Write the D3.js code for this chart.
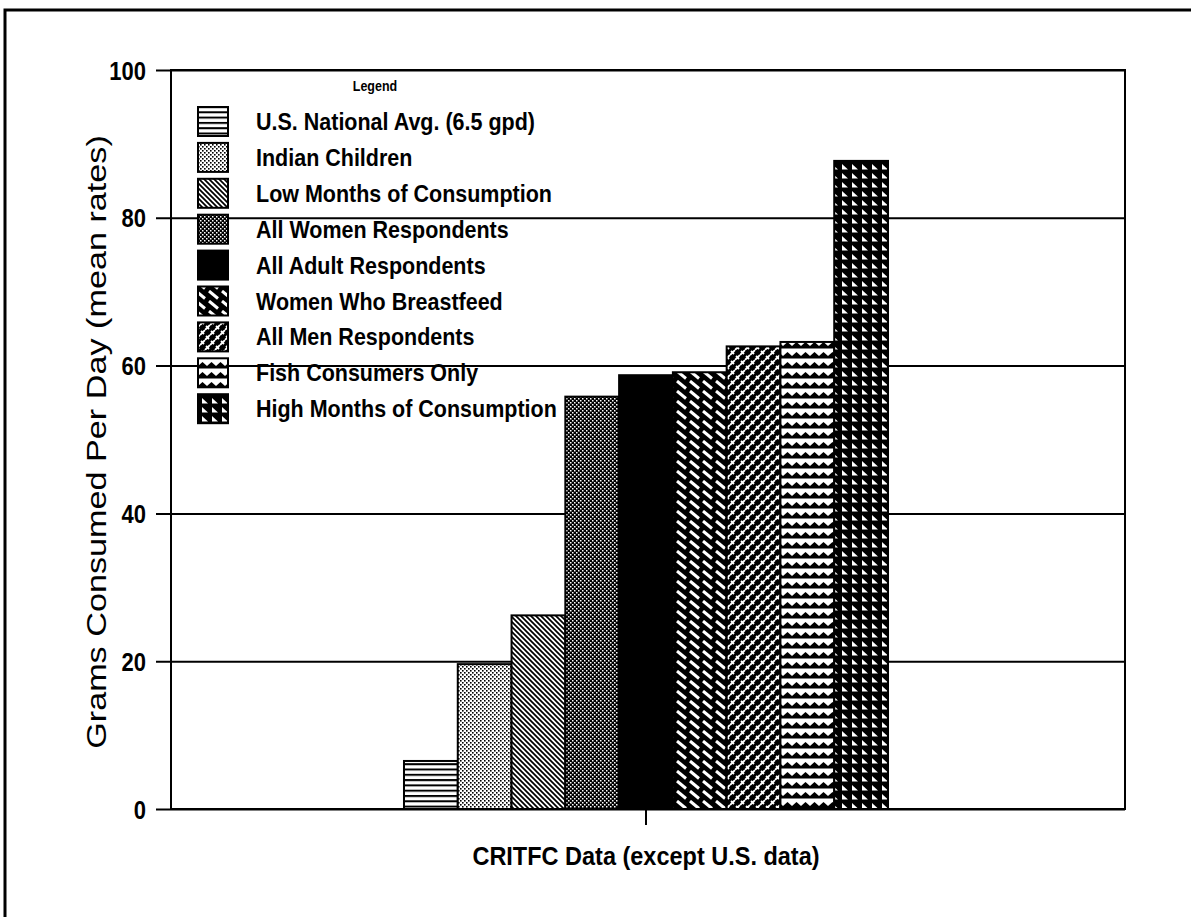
<!DOCTYPE html>
<html><head><meta charset="utf-8">
<script src="https://cdn.jsdelivr.net/npm/d3@7"></script>
<style>body{margin:0;background:#fff} svg{display:block} text{font-family:"Liberation Sans",Arial,sans-serif;font-weight:bold;fill:#000}</style>
</head><body><svg id="c" width="1191" height="917"></svg>
<script>
const categories = ["CRITFC Data (except U.S. data)"];
const seriesNames = [
  "U.S. National Avg. (6.5 gpd)",
  "Indian Children",
  "Low Months of Consumption",
  "All Women Respondents",
  "All Adult Respondents",
  "Women Who Breastfeed",
  "All Men Respondents",
  "Fish Consumers Only",
  "High Months of Consumption"
];
const seriesValues = [6.5, 19.6, 26.2, 55.8, 58.7, 59.1, 62.6, 63.2, 87.7];
const yTickValues = [0, 20, 40, 60, 80, 100];
const yTitle = "Grams Consumed Per Day (mean rates)";
const legendTitle = "Legend";

const SY = 1.12; // vertical stretch of the scanned lettering
const svg = d3.select("#c");
svg.append("rect").attr("width",1191).attr("height",917).attr("fill","#fff");
const defs = svg.append("defs");
function pat(id, w, h, bg, draw) {
  const p = defs.append("pattern").attr("id", id).attr("patternUnits", "userSpaceOnUse")
    .attr("width", w).attr("height", h);
  p.append("rect").attr("width", w).attr("height", h).attr("fill", bg);
  draw(p);
}
pat("p0", 8, 5.3, "#fff", p => p.append("rect").attr("y", 0).attr("width", 8).attr("height", 2).attr("fill", "#000"));
pat("p1", 4, 4, "#fff", p => { p.append("rect").attr("width",1.6).attr("height",1.6).attr("fill","#000"); p.append("rect").attr("x",2).attr("y",2).attr("width",1.6).attr("height",1.6).attr("fill","#000"); });
pat("p2", 5, 5, "#fff", p => p.append("path").attr("d","M-1,-1L6,6M-1,4L1,6M4,-1L6,1").attr("stroke","#000").attr("stroke-width",1.7));
pat("p3", 4, 4, "#000", p => { p.append("rect").attr("width",1.5).attr("height",1.5).attr("fill","#fff"); p.append("rect").attr("x",2).attr("y",2).attr("width",1.5).attr("height",1.5).attr("fill","#fff"); });
pat("p4", 4, 4, "#000", p => {});
pat("p5", 13, 10, "#000", p => p.append("path").attr("d","M1,1L10,8.5").attr("stroke","#fff").attr("stroke-width",3));
pat("p6", 10, 10, "#000", p => p.append("path").attr("d","M0,5L5,0M5,10L10,5M1,1L4,4M6,6L9,9").attr("stroke","#fff").attr("stroke-width",1.8));
pat("p7", 9, 10, "#fff", p => p.append("path").attr("d","M0,6L4.5,2L9,6L9,8.5L0,8.5Z").attr("fill","#000"));
pat("p8", 10, 9, "#000", p => p.append("path").attr("d","M2,2L8,7.5L2,7.5Z").attr("fill","#fff"));
const patternIds = ["p0","p1","p2","p3","p4","p5","p6","p7","p8"];

const plot = {left: 171, right: 1125, top: 70, bottom: 809};
const y = d3.scaleLinear().domain([0, 100]).range([plot.bottom, plot.top]);
const x0 = d3.scaleBand().domain(categories).range([plot.left - 2, plot.right - 2]).paddingInner(0).paddingOuter(0.4855);
const x1 = d3.scaleBand().domain(seriesNames).range([0, x0.bandwidth()]).padding(0);

// outer page frame
svg.append("path").attr("d","M5,917V10H1191").attr("fill","none").attr("stroke","#000").attr("stroke-width",3);

// gridlines + y ticks
const yAxis = d3.axisLeft(y).tickValues(yTickValues).tickSize(-(plot.right - plot.left)).tickFormat("");
const gy = svg.append("g").attr("transform", `translate(${plot.left},0)`).call(yAxis);
gy.select(".domain").remove();
gy.selectAll(".tick line").attr("stroke","#000").attr("stroke-width",2).attr("x1", -15);
yTickValues.forEach(v => {
  svg.append("text").attr("text-anchor","end").attr("font-size",22)
    .attr("transform", `translate(146,${y(v)}) scale(1,1.2) translate(0,8)`).text(v);
});

// bars
const bars = svg.append("g");
categories.forEach(c => {
  bars.selectAll("rect.bar").data(seriesNames).enter().append("rect").attr("class","bar")
    .attr("x", d => x0(c) + x1(d))
    .attr("width", x1.bandwidth())
    .attr("y", (d,i) => y(seriesValues[i]))
    .attr("height", (d,i) => y(0) - y(seriesValues[i]))
    .attr("fill", (d,i) => `url(#${patternIds[i]})`)
    .attr("stroke","#000").attr("stroke-width",2);
});

// plot frame
svg.append("rect").attr("x",plot.left).attr("y",plot.top).attr("width",plot.right-plot.left).attr("height",plot.bottom-plot.top)
  .attr("fill","none").attr("stroke","#000").attr("stroke-width",2);

// x axis tick
const xAxis = d3.axisBottom(x0).tickSize(16).tickFormat("");
const gx = svg.append("g").attr("transform", `translate(0,${plot.bottom})`).call(xAxis);
gx.select(".domain").remove();
gx.selectAll(".tick line").attr("stroke","#000").attr("stroke-width",2);
svg.append("text").attr("text-anchor","middle").attr("font-size",23.5)
  .attr("transform", `translate(${x0(categories[0]) + x0.bandwidth()/2},865) scale(1,${SY})`).text(categories[0]);

// y title
svg.append("text").attr("text-anchor","middle").attr("font-size",28.5).style("font-weight","normal")
  .attr("transform", `translate(106,442) rotate(-90) scale(1.2,1)`).text(yTitle);

// legend
const lg = svg.append("g");
lg.append("text").attr("text-anchor","middle").attr("font-size",12.5)
  .attr("transform", `translate(375,91) scale(1,${SY})`).text(legendTitle);
seriesNames.forEach((n, i) => {
  const ty = 107 + i * 35.9;
  lg.append("rect").attr("x",198).attr("y",ty).attr("width",30).attr("height",29)
    .attr("fill",`url(#${patternIds[i]})`).attr("stroke","#000").attr("stroke-width",2);
  lg.append("text").attr("font-size",21.5)
    .attr("transform", `translate(256,${ty + 23}) scale(1,${SY})`).text(n);
});
</script></body></html>
